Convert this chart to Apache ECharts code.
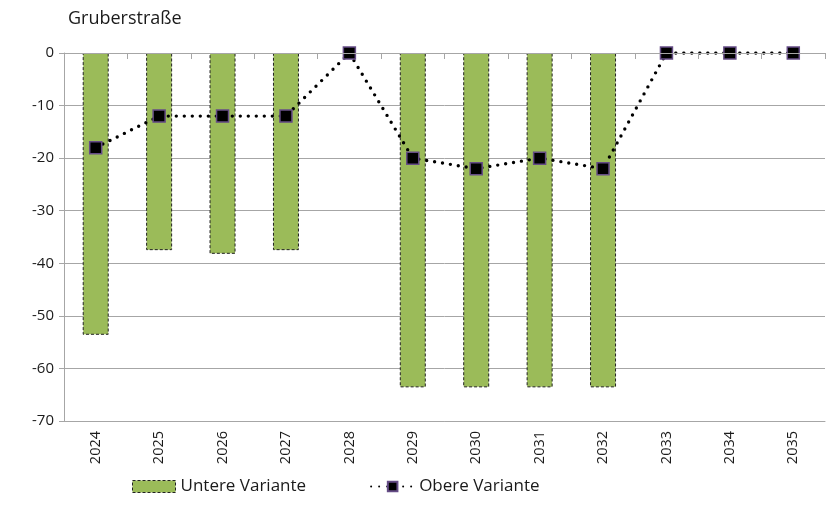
<!DOCTYPE html>
<html>
<head>
<meta charset="utf-8">
<script src="https://cdn.jsdelivr.net/npm/echarts@6/dist/echarts.min.js"></script>
<style>
  html, body { margin: 0; padding: 0; background: #fff; }
  #chart { width: 829px; height: 506px; }
</style>
</head>
<body>
<div id="chart"></div>
<script>
// Jahre auf der x-Achse
const years = ["2024", "2025", "2026", "2027", "2028", "2029", "2030", "2031", "2032", "2033", "2034", "2035"];
// Balken: Untere Variante (ohne Balken = null)
const untereVariante = [-53.6, -37.5, -38.2, -37.5, null, -63.6, -63.6, -63.6, -63.6, null, null, null];
// Linie: Obere Variante
const obereVariante = [-18, -12, -12, -12, 0, -20, -22, -20, -22, 0, 0, 0];
// y-Achse
const yMin = -70;
const yMax = 0;
const yStep = 10;

const axisGray = "#a6a6a6";
const textColor = "#1a1a1a";
const font = "'Open Sans', 'Noto Sans', sans-serif";

const myChart = echarts.init(document.getElementById("chart"));
const option = {
  animation: false,
  textStyle: { fontFamily: font },
  title: {
    text: "Gruberstraße",
    left: 63,
    top: 5,
    textStyle: { fontFamily: font, fontSize: 18, fontWeight: "normal", color: textColor }
  },
  legend: {
    top: 473,
    left: 127,
    itemWidth: 43,
    itemHeight: 12,
    itemGap: 64,
    textStyle: { fontFamily: font, fontSize: 17, color: textColor },
    data: [
      {
        name: "Untere Variante",
        icon: "rect",
        itemStyle: { color: "#9bbb59", borderColor: "#222", borderWidth: 1, borderType: [3, 2] }
      },
      { name: "Obere Variante" }
    ]
  },
  grid: {
    left: 64,
    right: 4,
    top: 53,
    bottom: 85
  },
  xAxis: [
    {
      type: "category",
      data: years,
      position: "bottom",
      axisLine: { onZero: false, lineStyle: { color: axisGray } },
      axisTick: { show: false },
      axisLabel: {
        rotate: 90,
        fontSize: 14.5,
        color: textColor,
        margin: 10,
        fontFamily: font
      }
    },
    {
      // Achse bei 0 mit Teilstrichen nach unten
      type: "category",
      data: years,
      position: "top",
      axisLine: { lineStyle: { color: axisGray } },
      axisTick: { show: true, inside: true, length: 6, lineStyle: { color: axisGray } },
      axisLabel: { show: false },
      z: 5
    }
  ],
  yAxis: {
    type: "value",
    min: yMin,
    max: yMax,
    interval: yStep,
    axisLine: { show: true, lineStyle: { color: axisGray } },
    axisTick: { show: true, length: 5, lineStyle: { color: axisGray } },
    axisLabel: { fontSize: 15, color: textColor, margin: 10, fontFamily: font },
    splitLine: { lineStyle: { color: axisGray, width: 1 } }
  },
  series: [
    {
      name: "Untere Variante",
      type: "bar",
      data: untereVariante,
      barWidth: "41%",
      itemStyle: {
        color: "#9bbb59",
        borderColor: "#222",
        borderWidth: 1,
        borderType: [3, 2]
      }
    },
    {
      name: "Obere Variante",
      type: "line",
      data: obereVariante,
      symbol: "rect",
      symbolSize: 12,
      itemStyle: {
        color: "#000",
        borderColor: "#654c86",
        borderWidth: 1.5
      },
      lineStyle: {
        color: "#000",
        width: 3.4,
        type: [0, 8],
        cap: "round"
      },
      z: 3
    }
  ]
};
myChart.setOption(option);
</script>
</body>
</html>
